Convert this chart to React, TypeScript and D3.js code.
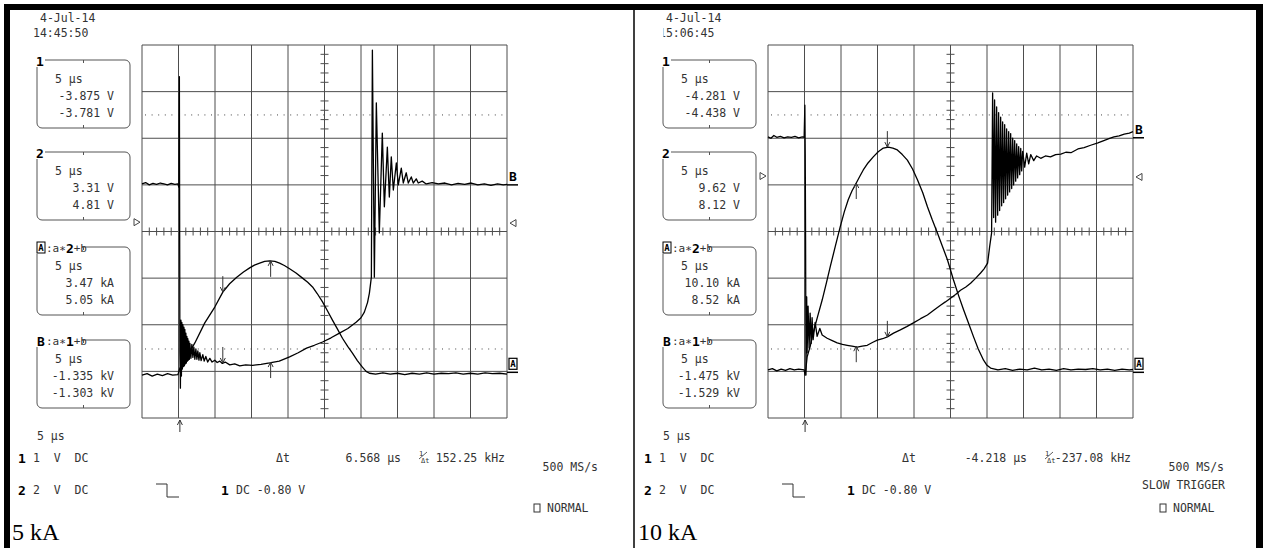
import React from "react";
import * as d3 from "d3";

type Pt = [number, number];

// ---------------- DATA ----------------
// Horizontal: time in µs across the screen (10 div × 5 µs/div).
// Vertical: screen divisions (−4 … +4, centre line = 0).
const timeGrid = [0, 5, 10, 15, 20, 25, 30, 35, 40, 45, 50];
const divGrid = [-4, -3, -2, -1, 0, 1, 2, 3, 4];

const panelTitles = ["5 kA", "10 kA"];
const panelDates = ["4-Jul-14", "4-Jul-14"];
const panelTimes = ["14:45:50", "15:06:45"];

const box1Values = [["-3.875 V", "-3.781 V"], ["-4.281 V", "-4.438 V"]];
const box2Values = [["3.31 V", "4.81 V"], ["9.62 V", "8.12 V"]];
const boxAValues = [["3.47 kA", "5.05 kA"], ["10.10 kA", "8.52 kA"]];
const boxBValues = [["-1.335 kV", "-1.303 kV"], ["-1.475 kV", "-1.529 kV"]];
const timeDiv = "5 µs";

const deltaT = ["6.568 µs", "-4.218 µs"];
const invDeltaT = ["152.25 kHz", "-237.08 kHz"];
const sampleRate = "500 MS/s";
const slowTrigger = [false, true];
const ch1Setting = "1  V  DC";
const ch2Setting = "2  V  DC";
const triggerSetting = "DC -0.80 V";

// cursor levels (dotted) and marker levels, in divisions
const cursorLevels = [[2.5, -2.52], [2.5, -2.52]];
const groundB = [1.0, 2.01];
const groundA = [-3.02, -3.02];
const leftTriangle = [0.2, 1.19];
const rightTriangle = [0.18, 1.17];
const triggerTime = [5.19, 5.08];

// cursor arrows: [time, level, direction(+1 down, -1 up)]
const cursorArrows: [number, number, number][][] = [
  [[11.07, -1.3, 1], [11.07, -2.82, 1], [17.62, -0.63, -1], [17.62, -2.8, -1]],
  [[16.35, 1.81, 1], [16.35, -2.26, 1], [12.09, 1.04, -1], [12.09, -2.46, -1]],
];

// Trace A (current, a*2+b) and trace B (voltage, a*1+b), 5 kA shot
const leftA: Pt[] = [
  [0, -3.08], [0.7, -3.05], [1.4, -3.1], [2.1, -3.06], [2.8, -3.09], [3.5, -3.05], [4.2, -3.08], [4.92, -3.07],
  [5.19, -2.93], [5.6, -2.85], [6.3, -2.65], [7.24, -2.39], [8.6, -1.96], [9.97, -1.62], [11.07, -1.3],
  [12.0, -1.12], [12.98, -0.98], [13.9, -0.87], [14.75, -0.78], [15.4, -0.72], [16.12, -0.68], [16.8, -0.64],
  [17.49, -0.63], [18.2, -0.64], [18.85, -0.68], [19.5, -0.73], [20.22, -0.8], [21.1, -0.89], [21.99, -1.0],
  [22.7, -1.09], [23.36, -1.19], [24.0, -1.33], [24.73, -1.51], [25.4, -1.7], [26.09, -1.9], [26.8, -2.1],
  [27.46, -2.29], [28.2, -2.47], [28.83, -2.61], [29.5, -2.77], [30.19, -2.91], [30.7, -3.0], [31.15, -3.04],
  [32.0, -3.06], [33.0, -3.03], [34.0, -3.06], [35.0, -3.04], [36.0, -3.07], [37.0, -3.04], [38.0, -3.06],
  [39.0, -3.03], [40.0, -3.06], [41.0, -3.04], [42.0, -3.05], [43.0, -3.03], [44.0, -3.06], [45.0, -3.04],
  [46.0, -3.06], [47.0, -3.03], [48.0, -3.05], [49.0, -3.04], [50, -3.06],
];
const leftB: Pt[] = [
  [0, 1.02], [0.5, 1.05], [1.0, 1.0], [1.5, 1.03], [2.0, 1.01], [2.5, 1.04], [3.0, 1.02], [3.5, 1.0], [4.0, 1.03],
  [4.5, 1.01], [4.92, 1.02], [5.05, 0.95], [5.12, 3.32], [5.19, -2.6], [5.26, -3.36], [5.33, -1.9], [5.4, -3.1],
  [5.46, -1.95], [5.53, -2.95], [5.6, -2.0], [5.67, -2.9], [5.74, -2.05], [5.81, -2.88], [5.87, -2.1],
  [5.94, -2.84], [6.01, -2.18], [6.08, -2.82], [6.15, -2.25], [6.22, -2.78], [6.28, -2.3], [6.35, -2.76],
  [6.42, -2.35], [6.49, -2.74], [6.56, -2.4], [6.7, -2.72], [6.83, -2.42], [6.97, -2.7], [7.1, -2.48],
  [7.24, -2.74], [7.38, -2.52], [7.52, -2.74], [7.65, -2.56], [7.8, -2.76], [7.92, -2.6], [8.1, -2.77],
  [8.33, -2.64], [8.52, -2.78], [8.74, -2.68], [9.0, -2.8], [9.29, -2.72], [9.6, -2.8], [9.97, -2.76],
  [10.3, -2.81], [10.66, -2.78], [11.0, -2.83], [11.4, -2.8], [12.02, -2.86], [12.7, -2.84], [13.39, -2.88],
  [14.2, -2.86], [15.16, -2.87], [16.3, -2.85], [17.49, -2.82], [18.8, -2.78], [20.22, -2.69], [21.4, -2.6],
  [22.54, -2.5], [23.6, -2.44], [24.73, -2.37], [25.9, -2.28], [27.05, -2.18], [28.2, -2.08], [29.37, -1.94],
  [30.0, -1.85], [30.46, -1.73], [30.9, -1.52], [31.15, -1.32], [31.42, -0.98], [31.56, 3.89], [31.83, -0.98],
  [32.1, 2.76], [32.51, -0.03], [32.92, 2.11], [33.2, 0.53], [33.61, 1.81], [33.88, 0.74], [34.15, 1.6],
  [34.43, 0.89], [34.84, 1.47], [35.11, 1.0], [35.52, 1.36], [35.79, 1.04], [36.2, 1.26], [36.48, 1.04],
  [36.89, 1.17], [37.16, 1.04], [37.57, 1.13], [37.84, 1.04], [38.39, 1.08], [38.93, 1.02], [39.75, 1.05],
  [40.6, 1.02], [41.5, 1.04], [42.4, 1.0], [43.3, 1.03], [44.2, 1.01], [45.1, 1.04], [46.0, 1.0], [46.9, 1.02],
  [47.8, 0.99], [48.7, 1.02], [49.5, 1.0], [50, 1.01],
];

// 10 kA shot
const rightA: Pt[] = [
  [0, -2.97], [0.6, -2.94], [1.2, -2.99], [1.8, -2.95], [2.4, -2.98], [3.0, -2.94], [3.6, -2.97], [4.2, -2.95],
  [4.95, -2.97], [5.08, -3.08], [5.22, -2.9], [5.36, -2.69], [5.8, -2.45], [6.18, -2.18], [6.8, -1.82],
  [7.42, -1.47], [8.0, -1.1], [8.52, -0.76], [9.2, -0.33], [9.89, 0.1], [10.45, 0.42], [10.99, 0.68],
  [11.5, 0.87], [12.09, 1.04], [12.6, 1.19], [13.05, 1.32], [13.7, 1.47], [14.42, 1.6], [15.1, 1.71],
  [15.8, 1.79], [16.48, 1.81], [17.1, 1.79], [17.72, 1.75], [18.4, 1.65], [19.09, 1.53], [19.8, 1.34],
  [20.47, 1.11], [21.2, 0.83], [21.84, 0.53], [22.5, 0.25], [23.21, -0.03], [23.9, -0.32], [24.59, -0.61],
  [25.41, -1.04], [26.1, -1.37], [26.79, -1.68], [27.5, -1.98], [28.16, -2.26], [28.8, -2.52], [29.53, -2.76],
  [30.0, -2.87], [30.49, -2.93], [31.5, -2.97], [32.5, -2.94], [33.5, -2.98], [34.5, -2.95], [35.5, -2.97],
  [36.5, -2.93], [37.5, -2.97], [38.5, -2.95], [39.5, -2.98], [40.5, -2.94], [41.5, -2.97], [42.5, -2.95],
  [43.5, -2.96], [44.5, -2.94], [45.5, -2.97], [46.5, -2.95], [47.5, -2.98], [48.5, -2.95], [49.5, -2.97],
  [50, -2.96],
];
const rightB: Pt[] = [
  [0, 2.03], [0.4, 2.0], [0.8, 2.06], [1.2, 2.02], [1.7, 2.04], [2.2, 2.01], [2.7, 2.03], [3.2, 2.02],
  [3.7, 2.04], [4.2, 2.01], [4.7, 2.03], [4.95, 2.02], [5.05, 2.71], [5.1, 1.68], [5.15, -0.23], [5.2, -3.08],
  [5.3, -1.4], [5.36, -2.6], [5.49, -1.6], [5.63, -2.5], [5.77, -1.75], [5.91, -2.4], [6.04, -1.85],
  [6.18, -2.32], [6.46, -1.95], [6.73, -2.25], [7.1, -2.08], [7.42, -2.22], [8.1, -2.29], [8.8, -2.34],
  [9.48, -2.39], [10.2, -2.42], [10.85, -2.44], [11.5, -2.46], [12.23, -2.48], [12.9, -2.46], [13.6, -2.44],
  [14.3, -2.38], [14.97, -2.33], [15.7, -2.3], [16.35, -2.26], [17.2, -2.18], [18.13, -2.11], [19.0, -2.04],
  [19.92, -1.96], [20.9, -1.87], [21.84, -1.79], [22.7, -1.69], [23.63, -1.58], [24.3, -1.51], [25.0, -1.43],
  [25.7, -1.35], [26.37, -1.26], [27.1, -1.19], [27.75, -1.11], [28.4, -1.01], [29.12, -0.89], [29.6, -0.8],
  [30.08, -0.68], [30.36, -0.33], [30.63, -0.03], [30.77, 2.97], [30.91, 0.3], [31.04, 2.82], [31.18, 0.2],
  [31.32, 2.67], [31.46, 0.35], [31.59, 2.55], [31.73, 0.45], [31.87, 2.45], [32.01, 0.55], [32.14, 2.35],
  [32.28, 0.62], [32.42, 2.29], [32.55, 0.7], [32.69, 2.2], [32.83, 0.78], [32.97, 2.14], [33.1, 0.85],
  [33.24, 2.1], [33.38, 0.92], [33.52, 2.0], [33.65, 1.0], [33.79, 1.95], [33.93, 1.08], [34.07, 1.88],
  [34.2, 1.15], [34.34, 1.82], [34.48, 1.22], [34.62, 1.78], [34.75, 1.3], [34.89, 1.72], [35.16, 1.38],
  [35.44, 1.68], [35.71, 1.45], [35.99, 1.65], [36.4, 1.52], [36.8, 1.62], [37.36, 1.57], [38.0, 1.62],
  [38.7, 1.6], [39.4, 1.65], [40.11, 1.66], [40.8, 1.7], [41.5, 1.69], [42.45, 1.77], [43.3, 1.8], [44.2, 1.85],
  [45.19, 1.9], [46.0, 1.95], [46.7, 1.99], [47.39, 2.03], [48.1, 2.05], [48.8, 2.09], [49.5, 2.11], [50, 2.14],
];

const tracesA = [leftA, rightA];
const tracesB = [leftB, rightB];

// ---------------- LAYOUT ----------------
const W = 1263;
const H = 548;
const panelX = [8, 634];
const PLOT_DX = 134;
const PLOT_W = 365;
const PLOT_TOP = 45;
const PLOT_BOTTOM = 418;
const MONO = "'DejaVu Sans Mono', monospace";
const TXT = "#333";
const boxTops = [60, 152, 247, 340];

function Panel({ i }: { i: number }) {
  const ox = panelX[i];
  const pl = ox + PLOT_DX;
  const pr = pl + PLOT_W;
  const x = d3.scaleLinear().domain([0, 50]).range([pl, pr]);
  const y = d3.scaleLinear().domain([-4, 4]).range([PLOT_BOTTOM, PLOT_TOP]);
  const line = d3.line<Pt>().x((d) => x(d[0])).y((d) => y(d[1]));
  const gridColor = "#4d4d4d";

  const hTicks = d3.range(1, 50).filter((t) => t % 5 !== 0);
  const vTicks = d3.range(-19, 20).filter((k) => k % 5 !== 0).map((k) => k / 5);

  const row1 = 458;
  const row2 = 490;

  const valueSets = [box1Values[i], box2Values[i], boxAValues[i], boxBValues[i]];

  return (
    <g>
      {/* date / time */}
      <text x={ox + 32} y={18} fontFamily={MONO} fontSize={11.5} fill={TXT} dominantBaseline="central">
        {panelDates[i]}
      </text>
      <clipPath id={`tclip${i}`}>
        <rect x={ox + 29.5} y={20} width={90} height={25} />
      </clipPath>
      <text
        x={ox + 25}
        y={33}
        fontFamily={MONO}
        fontSize={11.5}
        fill={TXT}
        dominantBaseline="central"
        clipPath={i === 1 ? `url(#tclip${i})` : undefined}
      >
        {panelTimes[i]}
      </text>

      {/* info boxes */}
      {boxTops.map((top, k) => {
        const bx = ox + 29;
        const bw = 93;
        const bh = 68;
        return (
          <g key={k}>
            <rect x={bx} y={top} width={bw} height={bh} rx={5} fill="none" stroke="#555" strokeWidth={1} />
            <line x1={bx + bw / 2} x2={bx + bw / 2} y1={top} y2={top + 3} stroke="#555" />
            <line x1={bx + bw / 2} x2={bx + bw / 2} y1={top + bh - 3} y2={top + bh} stroke="#555" />
            {k < 2 ? (
              <g>
                <rect x={bx - 3} y={top - 7} width={11} height={14} fill="#fff" />
                <text
                  x={bx + 3}
                  y={top + 1}
                  fontFamily={MONO}
                  fontWeight="bold"
                  fontSize={13}
                  fill="#000"
                  textAnchor="middle"
                  dominantBaseline="central"
                >
                  {k === 0 ? "1" : "2"}
                </text>
              </g>
            ) : (
              <g>
                <rect x={bx - 3} y={top - 7} width={48} height={14} fill="#fff" />
                {k === 2 ? (
                  <g>
                    <rect x={bx} y={top - 5} width={8} height={11} fill="#fff" stroke="#000" strokeWidth={1} />
                    <text
                      x={bx + 4}
                      y={top + 1}
                      fontFamily={MONO}
                      fontWeight="bold"
                      fontSize={9}
                      fill="#000"
                      textAnchor="middle"
                      dominantBaseline="central"
                    >
                      A
                    </text>
                  </g>
                ) : (
                  <text
                    x={bx + 4}
                    y={top + 1}
                    fontFamily={MONO}
                    fontWeight="bold"
                    fontSize={13}
                    fill="#000"
                    textAnchor="middle"
                    dominantBaseline="central"
                  >
                    B
                  </text>
                )}
                <text x={bx + 9} y={top + 1} fontFamily={MONO} fontSize={11} fill={TXT} dominantBaseline="central">
                  <tspan>:a∗</tspan>
                  <tspan fontWeight="bold" fontSize={13} fill="#000">
                    {k === 2 ? "2" : "1"}
                  </tspan>
                  <tspan>+b</tspan>
                </text>
              </g>
            )}
            <text x={ox + 47} y={top + 19} fontFamily={MONO} fontSize={11.5} fill={TXT} dominantBaseline="central">
              {timeDiv}
            </text>
            <text
              x={ox + 106}
              y={top + 36}
              fontFamily={MONO}
              fontSize={11.5}
              fill={TXT}
              textAnchor="end"
              dominantBaseline="central"
            >
              {valueSets[k][0]}
            </text>
            <text
              x={ox + 106}
              y={top + 53}
              fontFamily={MONO}
              fontSize={11.5}
              fill={TXT}
              textAnchor="end"
              dominantBaseline="central"
            >
              {valueSets[k][1]}
            </text>
          </g>
        );
      })}

      {/* grid */}
      {timeGrid.map((t) => (
        <line key={"v" + t} x1={x(t)} x2={x(t)} y1={y(-4)} y2={y(4)} stroke={gridColor} strokeWidth={1} />
      ))}
      {divGrid.map((d) => (
        <line key={"h" + d} x1={pl} x2={pr} y1={y(d)} y2={y(d)} stroke={gridColor} strokeWidth={1} />
      ))}
      {hTicks.map((t) => (
        <line key={"ht" + t} x1={x(t)} x2={x(t)} y1={y(0) - 4} y2={y(0) + 4} stroke={gridColor} strokeWidth={1} />
      ))}
      {vTicks.map((d) => (
        <line key={"vt" + d} x1={x(25) - 4} x2={x(25) + 4} y1={y(d)} y2={y(d)} stroke={gridColor} strokeWidth={1} />
      ))}
      {cursorLevels[i].map((d) => (
        <line
          key={"c" + d}
          x1={pl + 3}
          x2={pr - 3}
          y1={y(d)}
          y2={y(d)}
          stroke="#444"
          strokeWidth={1}
          strokeDasharray="1 5.6"
        />
      ))}

      {/* traces */}
      <path d={line(tracesB[i]) || ""} fill="none" stroke="#000" strokeWidth={1.3} strokeLinejoin="round" />
      <path d={line(tracesA[i]) || ""} fill="none" stroke="#000" strokeWidth={1.3} strokeLinejoin="round" />

      {/* cursor arrows */}
      {cursorArrows[i].map(([t, d, dir], k) => {
        const tx = x(t);
        const ty = y(d);
        const s = -dir;
        return (
          <path
            key={"a" + k}
            d={`M${tx},${ty + s * 16}L${tx},${ty}M${tx - 2.5},${ty + s * 5}L${tx},${ty}L${tx + 2.5},${ty + s * 5}`}
            fill="none"
            stroke="#333"
            strokeWidth={1}
          />
        );
      })}

      {/* trigger position arrow */}
      <path
        d={`M${x(triggerTime[i])},${PLOT_BOTTOM + 14}L${x(triggerTime[i])},${PLOT_BOTTOM + 2}M${
          x(triggerTime[i]) - 2.5
        },${PLOT_BOTTOM + 7}L${x(triggerTime[i])},${PLOT_BOTTOM + 2}L${x(triggerTime[i]) + 2.5},${PLOT_BOTTOM + 7}`}
        fill="none"
        stroke="#333"
        strokeWidth={1}
      />

      {/* side markers */}
      <path
        d={`M${pl - 8},${y(leftTriangle[i]) - 3.5}L${pl - 2},${y(leftTriangle[i])}L${pl - 8},${
          y(leftTriangle[i]) + 3.5
        }Z`}
        fill="none"
        stroke="#444"
        strokeWidth={1}
      />
      <path
        d={`M${pr + 9},${y(rightTriangle[i]) - 3.5}L${pr + 3},${y(rightTriangle[i])}L${pr + 9},${
          y(rightTriangle[i]) + 3.5
        }Z`}
        fill="none"
        stroke="#444"
        strokeWidth={1}
      />
      <line x1={pr} x2={pr + 11} y1={y(groundB[i])} y2={y(groundB[i])} stroke="#000" strokeWidth={1.5} />
      <text
        x={pr + 6}
        y={y(groundB[i]) - 8}
        fontFamily={MONO}
        fontWeight="bold"
        fontSize={13}
        fill="#000"
        textAnchor="middle"
        dominantBaseline="central"
      >
        B
      </text>
      <line x1={pr} x2={pr + 11} y1={y(groundA[i])} y2={y(groundA[i])} stroke="#000" strokeWidth={1.5} />
      <rect x={pr + 2} y={y(groundA[i]) - 14} width={8} height={11} fill="#fff" stroke="#000" strokeWidth={1.2} />
      <text
        x={pr + 6}
        y={y(groundA[i]) - 8.5}
        fontFamily={MONO}
        fontWeight="bold"
        fontSize={9}
        fill="#000"
        textAnchor="middle"
        dominantBaseline="central"
      >
        A
      </text>

      {/* bottom read-outs */}
      <text x={ox + 29} y={436} fontFamily={MONO} fontSize={11.5} fill={TXT} dominantBaseline="central">
        {timeDiv}
      </text>
      <text
        x={ox + 10}
        y={row1}
        fontFamily={MONO}
        fontWeight="bold"
        fontSize={13}
        fill="#000"
        dominantBaseline="central"
      >
        1
      </text>
      <text x={ox + 25} y={row1} fontFamily={MONO} fontSize={11.5} fill={TXT} dominantBaseline="central" xmlSpace="preserve">
        {ch1Setting}
      </text>
      <text x={ox + 268} y={row1} fontFamily={MONO} fontSize={11.5} fill={TXT} dominantBaseline="central">
        Δt
      </text>
      <text
        x={ox + 393}
        y={row1}
        fontFamily={MONO}
        fontSize={11.5}
        fill={TXT}
        textAnchor="end"
        dominantBaseline="central"
      >
        {deltaT[i]}
      </text>
      <text x={ox + 411} y={row1 - 4} fontFamily={MONO} fontSize={7} fill={TXT} dominantBaseline="central">
        1
      </text>
      <line x1={ox + 411} x2={ox + 419} y1={row1 + 1} y2={row1 - 6} stroke={TXT} strokeWidth={0.8} />
      <text x={ox + 413} y={row1 + 3} fontFamily={MONO} fontSize={7} fill={TXT} dominantBaseline="central">
        Δt
      </text>
      <text
        x={ox + 497}
        y={row1}
        fontFamily={MONO}
        fontSize={11.5}
        fill={TXT}
        textAnchor="end"
        dominantBaseline="central"
      >
        {invDeltaT[i]}
      </text>
      <text
        x={ox + 590}
        y={467}
        fontFamily={MONO}
        fontSize={11.5}
        fill={TXT}
        textAnchor="end"
        dominantBaseline="central"
      >
        {sampleRate}
      </text>
      {slowTrigger[i] && (
        <text
          x={ox + 591}
          y={485}
          fontFamily={MONO}
          fontSize={11.5}
          fill={TXT}
          textAnchor="end"
          dominantBaseline="central"
        >
          SLOW TRIGGER
        </text>
      )}
      <rect x={ox + 526} y={504} width={6} height={8} fill="none" stroke={TXT} strokeWidth={1} />
      <text x={ox + 539} y={508} fontFamily={MONO} fontSize={11.5} fill={TXT} dominantBaseline="central">
        NORMAL
      </text>

      <text
        x={ox + 10}
        y={row2}
        fontFamily={MONO}
        fontWeight="bold"
        fontSize={13}
        fill="#000"
        dominantBaseline="central"
      >
        2
      </text>
      <text x={ox + 25} y={row2} fontFamily={MONO} fontSize={11.5} fill={TXT} dominantBaseline="central" xmlSpace="preserve">
        {ch2Setting}
      </text>
      <path
        d={`M${ox + 148},${row2 - 6}H${ox + 159}V${row2 + 7}H${ox + 171}`}
        fill="none"
        stroke={TXT}
        strokeWidth={1}
      />
      <text
        x={ox + 213}
        y={row2}
        fontFamily={MONO}
        fontWeight="bold"
        fontSize={13}
        fill="#000"
        dominantBaseline="central"
      >
        1
      </text>
      <text x={ox + 228} y={row2} fontFamily={MONO} fontSize={11.5} fill={TXT} dominantBaseline="central">
        {triggerSetting}
      </text>

      {/* panel caption */}
      <text x={ox + 4} y={540} fontFamily="'Liberation Serif', 'Times New Roman', serif" fontSize={24} fill="#000">
        {panelTitles[i]}
      </text>
    </g>
  );
}

export default function App() {
  return (
    <div style={{ position: "absolute", left: 0, top: 0, width: W, height: H, background: "#fff" }}>
      <svg width={W} height={H} style={{ display: "block" }}>
        <rect width={W} height={H} fill="#fff" />
        <Panel i={0} />
        <Panel i={1} />
        {/* frame */}
        <rect x={4} y={4} width={1259} height={6} fill="#000" />
        <rect x={4} y={4} width={6} height={H} fill="#000" />
        <rect x={1256} y={4} width={7} height={H} fill="#000" />
        <line x1={634} x2={634} y1={10} y2={H} stroke="#000" strokeWidth={1.5} />
      </svg>
    </div>
  );
}
